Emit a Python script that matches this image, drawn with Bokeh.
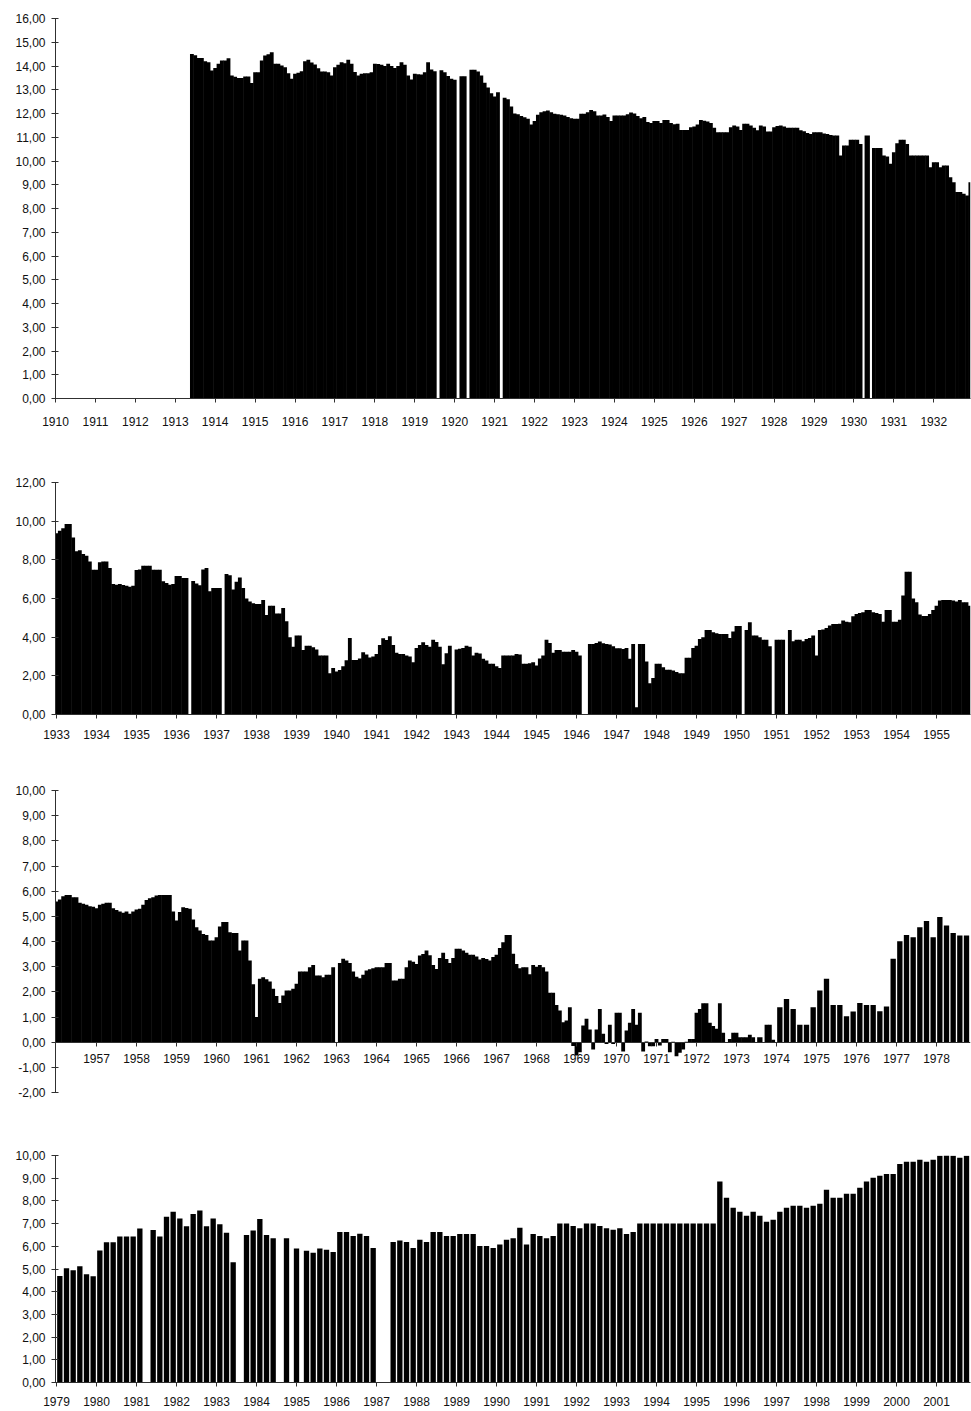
from bokeh.plotting import figure
from bokeh.layouts import column
from bokeh.models import FixedTicker, CustomJSTickFormatter, ColumnDataSource, Range1d
from bokeh.embed import file_html
from bokeh.resources import INLINE

N = None
FONT = "Liberation Sans"

# ---------------- data (monthly values, None = no observation) ----------------
p1_start = (1913, 6)
p1_values = [
    14.51, 14.45, 14.34, 14.34, 14.20, 14.16, 13.81,                                # 1913 Jun-Dec
    13.92, 14.10, 14.23, 14.23, 14.33, 13.60, 13.55, 13.50, 13.50, 13.56, 13.56, 13.28,  # 1914
    13.74, 13.74, 14.23, 14.44, 14.50, 14.58, 14.10, 14.09, 14.02, 13.95, 13.70, 13.46,  # 1915
    13.67, 13.72, 13.78, 14.20, 14.26, 14.15, 14.06, 13.91, 13.77, 13.77, 13.74, 13.60,  # 1916
    13.95, 14.05, 14.16, 14.12, 14.26, 14.10, 13.75, 13.60, 13.67, 13.70, 13.70, 13.74,  # 1917
    14.09, 14.08, 14.05, 14.00, 14.10, 14.00, 13.92, 14.00, 14.16, 14.05, 13.60, 13.43,  # 1918
    13.67, 13.65, 13.64, 13.74, 14.16, 13.85, 13.78, N, 13.82, 13.74, 13.58, 13.46,      # 1919
    13.42, N, 13.57, 13.57, N, 13.84, 13.84, 13.77, 13.60, 13.30, 13.10, 12.85,          # 1920
    12.72, 12.90, N, 12.66, 12.60, 12.30, 12.00, 11.97, 11.90, 11.84, 11.78, 11.54,      # 1921
    11.68, 11.95, 12.05, 12.10, 12.13, 12.05, 11.99, 11.97, 11.95, 11.92, 11.85, 11.80,  # 1922
    11.78, 11.78, 11.99, 11.99, 12.05, 12.15, 12.10, 11.92, 11.92, 11.96, 11.85, 11.68,  # 1923
    11.92, 11.92, 11.92, 11.92, 11.97, 12.04, 12.00, 11.90, 11.80, 11.85, 11.64, 11.60,  # 1924
    11.68, 11.68, 11.60, 11.73, 11.73, 11.60, 11.55, 11.57, 11.31, 11.31, 11.31, 11.42,  # 1925
    11.45, 11.54, 11.73, 11.70, 11.66, 11.60, 11.40, 11.21, 11.21, 11.21, 11.21, 11.42,  # 1926
    11.49, 11.45, 11.31, 11.57, 11.57, 11.49, 11.40, 11.30, 11.49, 11.45, 11.24, 11.24,  # 1927
    11.42, 11.47, 11.49, 11.45, 11.40, 11.40, 11.40, 11.40, 11.30, 11.25, 11.18, 11.14,  # 1928
    11.21, 11.21, 11.21, 11.16, 11.14, 11.10, 11.07, 11.07, 10.23, 10.65, 10.65, 10.89,  # 1929
    10.89, 10.89, 10.72, N, 11.07, N, 10.55, 10.55, 10.55, 10.23, 10.19, 9.88,           # 1930
    10.37, 10.75, 10.89, 10.89, 10.72, 10.23, 10.23, 10.23, 10.23, 10.23, 10.23, 9.74,   # 1931
    9.95, 9.95, 9.74, 9.81, 9.81, 9.32, 9.11, 8.69, 8.69, 8.62, 8.55, 9.11,              # 1932
]

p2_start = (1933, 1)
p2_values = [
    9.37, 9.50, 9.64, 9.85, 9.85, 9.16, 8.44, 8.50, 8.30, 8.21, 7.92, 7.49,   # 1933
    7.49, 7.87, 7.92, 7.92, 7.58, 6.75, 6.71, 6.75, 6.70, 6.66, 6.61, 6.66,   # 1934
    7.47, 7.50, 7.70, 7.70, 7.70, 7.49, 7.49, 7.49, 6.89, 6.80, 6.71, 6.75,   # 1935
    7.16, 7.16, 7.06, 7.06, N, 6.90, 6.78, 6.68, 7.50, 7.58, 6.37, 6.54,      # 1936
    6.54, 6.54, N, 7.27, 7.20, 6.47, 6.87, 7.09, 6.54, 6.00, 5.85, 5.75,      # 1937
    5.72, 5.72, 5.92, 5.15, 5.63, 5.63, 5.23, 5.23, 5.51, 4.82, 3.99, 3.50,   # 1938
    4.08, 4.08, 3.34, 3.56, 3.56, 3.48, 3.36, 3.05, 3.05, 3.05, 2.13, 2.41,   # 1939
    2.22, 2.30, 2.50, 2.80, 3.96, 2.82, 2.82, 2.90, 3.22, 3.10, 2.95, 3.00,   # 1940
    3.13, 3.60, 3.94, 3.85, 4.05, 3.60, 3.20, 3.13, 3.13, 3.05, 3.00, 2.70,   # 1941
    3.44, 3.60, 3.74, 3.60, 3.50, 3.86, 3.75, 3.50, 2.60, 3.17, 3.55, N,      # 1942
    3.36, 3.40, 3.44, 3.55, 3.50, 3.05, 3.20, 3.15, 2.88, 2.79, 2.62, 2.62,   # 1943
    2.50, 2.41, 3.05, 3.05, 3.05, 3.05, 3.13, 3.10, 2.62, 2.62, 2.65, 2.70,   # 1944
    2.53, 2.90, 3.05, 3.86, 3.70, 3.20, 3.34, 3.34, 3.25, 3.25, 3.25, 3.34,   # 1945
    3.25, 3.05, N, N, 3.65, 3.65, 3.70, 3.77, 3.68, 3.65, 3.62, 3.53,         # 1946
    3.43, 3.43, 3.39, 3.44, 2.88, 3.65, 0.38, 3.65, 3.65, 2.74, 1.62, 1.89,   # 1947
    2.62, 2.62, 2.44, 2.32, 2.32, 2.27, 2.20, 2.13, 2.13, 2.93, 2.93, 3.44,   # 1948
    3.56, 3.91, 3.99, 4.37, 4.37, 4.25, 4.20, 4.17, 4.17, 4.17, 3.96, 4.29,   # 1949
    4.58, 4.58, N, 4.37, 4.77, 4.08, 4.08, 3.99, 3.86, 3.86, 3.53, N,         # 1950
    3.86, 3.86, 3.86, N, 4.37, 3.79, 3.86, 3.86, 3.79, 3.90, 3.96, 4.08,      # 1951
    3.05, 4.37, 4.40, 4.48, 4.60, 4.68, 4.68, 4.70, 4.86, 4.80, 4.77, 5.08,   # 1952
    5.20, 5.25, 5.29, 5.41, 5.41, 5.29, 5.25, 5.20, 4.80, 5.41, 5.41, 4.80,   # 1953
    4.80, 4.90, 6.15, 7.39, 7.39, 6.00, 5.80, 5.17, 5.10, 5.10, 5.20, 5.40,   # 1954
    5.63, 5.90, 5.92, 5.92, 5.92, 5.90, 5.85, 5.92, 5.80, 5.80, 5.63,         # 1955
]

p3_start = (1956, 1)
p3_values = [
    5.59, 5.67, 5.80, 5.85, 5.85, 5.76, 5.76, 5.54, 5.50, 5.46, 5.40, 5.38,   # 1956
    5.32, 5.46, 5.50, 5.54, 5.54, 5.32, 5.25, 5.19, 5.14, 5.19, 5.10, 5.19,   # 1957
    5.27, 5.30, 5.46, 5.65, 5.72, 5.76, 5.83, 5.85, 5.85, 5.85, 5.85, 5.19,   # 1958
    4.83, 5.17, 5.36, 5.33, 5.30, 4.87, 4.57, 4.44, 4.30, 4.26, 4.04, 4.04,   # 1959
    4.17, 4.60, 4.77, 4.77, 4.37, 4.34, 4.34, 3.64, 4.04, 4.04, 3.25, 2.30,   # 1960
    1.00, 2.52, 2.58, 2.50, 2.41, 2.12, 1.83, 1.56, 1.85, 2.05, 2.05, 2.12,   # 1961
    2.32, 2.81, 2.81, 2.81, 2.98, 3.07, 2.65, 2.65, 2.58, 2.68, 2.68, 2.98,   # 1962
    N, 3.15, 3.31, 3.25, 3.15, 2.81, 2.60, 2.54, 2.68, 2.85, 2.90, 2.94,      # 1963
    2.98, 2.98, 2.98, 3.15, 3.15, 2.45, 2.45, 2.52, 2.52, 2.98, 3.25, 3.20,   # 1964
    3.11, 3.44, 3.50, 3.64, 3.45, 3.07, 2.91, 3.34, 3.55, 3.30, 3.15, 3.34,   # 1965
    3.71, 3.71, 3.64, 3.55, 3.47, 3.47, 3.40, 3.28, 3.34, 3.30, 3.25, 3.38,   # 1966
    3.47, 3.74, 3.97, 4.26, 4.26, 3.51, 3.11, 2.94, 2.98, 2.98, 2.70, 3.07,   # 1967
    3.00, 3.07, 2.98, 2.81, 1.96, 1.96, 1.48, 1.26, 0.79, 0.86, 1.39, -0.15,  # 1968
    -0.53, -0.40, 0.66, 0.93, 0.50, -0.29, 0.50, 1.32, 0.33, -0.07, 0.69, -0.07,  # 1969
    1.17, 1.17, -0.37, 0.46, 0.77, 1.32, 0.69, 1.17, -0.37, 0.03, -0.16, -0.16,   # 1970
    0.13, -0.13, 0.13, 0.13, -0.40, 0.02, -0.56, -0.42, -0.29, 0.02, 0.13, 0.13,  # 1971
    1.17, 1.32, 1.55, 1.55, 0.77, 0.64, 0.53, 1.55, 0.37, -0.03, 0.13, 0.37,      # 1972
    0.37, 0.20, 0.20, 0.20, 0.29, 0.20, N, 0.20, N, 0.69, 0.69, 0.10,             # 1973
    N, 1.39, N, 1.72, N, 1.32, N, 0.69, N, 0.69, N, 1.39,                         # 1974
    N, 2.05, N, 2.52, N, 1.48, N, 1.48, N, 1.03, N, 1.22,                         # 1975
    N, 1.56, N, 1.48, N, 1.48, N, 1.23, N, 1.42, N, 3.31,                         # 1976
    N, 4.01, N, 4.26, N, 4.17, N, 4.57, N, 4.81, N, 4.17,                         # 1977
    N, 4.97, N, 4.64, N, 4.34, N, 4.24, N, 4.24,                                  # 1978
]

p4_start = (1979, 1)
p4_values = [
    N, 4.69, N, 5.03, N, 4.95, N, 5.12, N, 4.77, N, 4.68,   # 1979
    N, 5.82, N, 6.18, N, 6.18, N, 6.43, N, 6.43, N, 6.43,   # 1980
    N, 6.78, N, N, N, 6.72, N, 6.43, N, 7.30, N, 7.52,      # 1981
    N, 7.23, N, 6.88, N, 7.42, N, 7.58, N, 6.88, N, 7.23,   # 1982
    N, 6.97, N, 6.60, N, 5.30, N, N, N, 6.50, N, 6.70,      # 1983
    N, 7.20, N, 6.50, N, 6.35, N, N, N, 6.35, N, N,         # 1984
    5.90, N, N, 5.80, N, 5.72, N, 5.90, N, 5.85, N, 5.75,   # 1985
    N, 6.63, N, 6.63, N, 6.45, N, 6.55, N, 6.45, N, 5.92,   # 1986
    N, N, N, N, N, 6.19, N, 6.26, N, 6.19, N, 5.92,         # 1987
    N, 6.29, N, 6.19, N, 6.63, N, 6.63, N, 6.45, N, 6.45,   # 1988
    N, 6.54, N, 6.54, N, 6.54, N, 6.01, N, 6.01, N, 5.92,   # 1989
    N, 6.08, N, 6.29, N, 6.36, N, 6.82, N, 6.08, N, 6.54,   # 1990
    N, 6.45, N, 6.36, N, 6.45, N, 7.00, N, 7.00, N, 6.89,   # 1991
    N, 6.80, N, 7.00, N, 7.00, N, 6.89, N, 6.80, N, 6.73,   # 1992
    N, 6.80, N, 6.54, N, 6.63, N, 7.00, N, 7.00, N, 7.00,   # 1993
    N, 7.00, N, 7.00, N, 7.00, N, 7.00, N, 7.00, N, 7.00,   # 1994
    N, 7.00, N, 7.00, N, 7.00, N, 8.86, N, 8.14, N, 7.70,   # 1995
    N, 7.52, N, 7.35, N, 7.52, N, 7.35, N, 7.08, N, 7.17,   # 1996
    N, 7.52, N, 7.70, N, 7.79, N, 7.79, N, 7.70, N, 7.79,   # 1997
    N, 7.87, N, 8.49, N, 8.14, N, 8.14, N, 8.31, N, 8.31,   # 1998
    N, 8.58, N, 8.86, N, 9.02, N, 9.11, N, 9.19, N, 9.19,   # 1999
    N, 9.63, N, 9.72, N, 9.72, N, 9.81, N, 9.72, N, 9.81,   # 2000
    N, 9.99, N, 10.07, N, 9.99, N, 9.90, N, 9.99,           # 2001
]

p1_years = list(range(1910, 1933))
p2_years = list(range(1933, 1956))
p3_years = list(range(1957, 1979))
p4_years = list(range(1979, 2002))

p1_yticks = list(range(0, 17, 1))
p2_yticks = list(range(0, 13, 2))
p3_yticks = list(range(-2, 11, 1))
p4_yticks = list(range(0, 11, 1))


# ---------------- helpers ----------------
def to_source(start, values):
    y0, m0 = start
    base = y0 * 12 + (m0 - 1)
    months = [base + i for i, v in enumerate(values) if v is not None]
    tops = [v for v in values if v is not None]
    present = set(months)
    widths = []
    for m in months:
        dense = (m - 1 in present) or (m + 1 in present)
        widths.append((1.15 if dense else 1.6) / 12.0)
    return ColumnDataSource(dict(x=[m / 12.0 for m in months], top=tops, w=widths))


fmt_js = "return tick.toFixed(2).replace('.', ',');"


def make_panel(src, xr, yr, years, yticks, height, b_top, b_bottom, standoff, axis_at_zero=False):
    p = figure(width=971, height=height, title=None,
               x_range=Range1d(*xr), y_range=Range1d(*yr),
               output_backend="svg", toolbar_location=None,
               min_border_left=55, min_border_right=1,
               min_border_top=b_top, min_border_bottom=b_bottom)
    p.vbar(x="x", top="top", bottom=0, width="w", source=src,
           fill_color="#000000", line_color=None)
    p.outline_line_color = None
    p.xgrid.visible = False
    p.ygrid.visible = False
    p.background_fill_color = "#ffffff"
    p.border_fill_color = "#ffffff"

    xa = p.xaxis[0]
    xa.ticker = FixedTicker(ticks=years, minor_ticks=[])
    xa.major_tick_out = 4
    xa.major_tick_in = 0
    xa.major_label_standoff = standoff
    if axis_at_zero:
        xa.fixed_location = 0

    ya = p.yaxis[0]
    ya.ticker = FixedTicker(ticks=yticks, minor_ticks=[])
    ya.formatter = CustomJSTickFormatter(code=fmt_js)
    ya.major_tick_out = 4
    ya.major_tick_in = 3
    ya.major_label_standoff = 6

    for ax in (xa, ya):
        ax.axis_line_color = "#303030"
        ax.axis_line_width = 1
        ax.major_tick_line_color = "#303030"
        ax.minor_tick_line_color = None
        ax.major_label_text_font = FONT
        ax.major_label_text_font_size = "12px"
        ax.major_label_text_color = "#111111"
    return p


p1 = make_panel(to_source(p1_start, p1_values), (1910.0, 1932.92), (0, 16),
                p1_years, p1_yticks, 450, 18, 52, 14)
p2 = make_panel(to_source(p2_start, p2_values), (1932.975, 1955.85), (0, 12),
                p2_years, p2_yticks, 308, 32, 44, 11)
p3 = make_panel(to_source(p3_start, p3_values), (1955.975, 1978.85), (-2, 10),
                p3_years, p3_yticks, 360, 32, 26, 8, axis_at_zero=True)
p4 = make_panel(to_source(p4_start, p4_values), (1978.975, 2001.85), (0, 10),
                p4_years, p4_yticks, 293, 37, 29, 10)

layout = column(p1, p2, p3, p4, spacing=0)

with open("out.html", "w") as f:
    f.write(file_html(layout, INLINE))
